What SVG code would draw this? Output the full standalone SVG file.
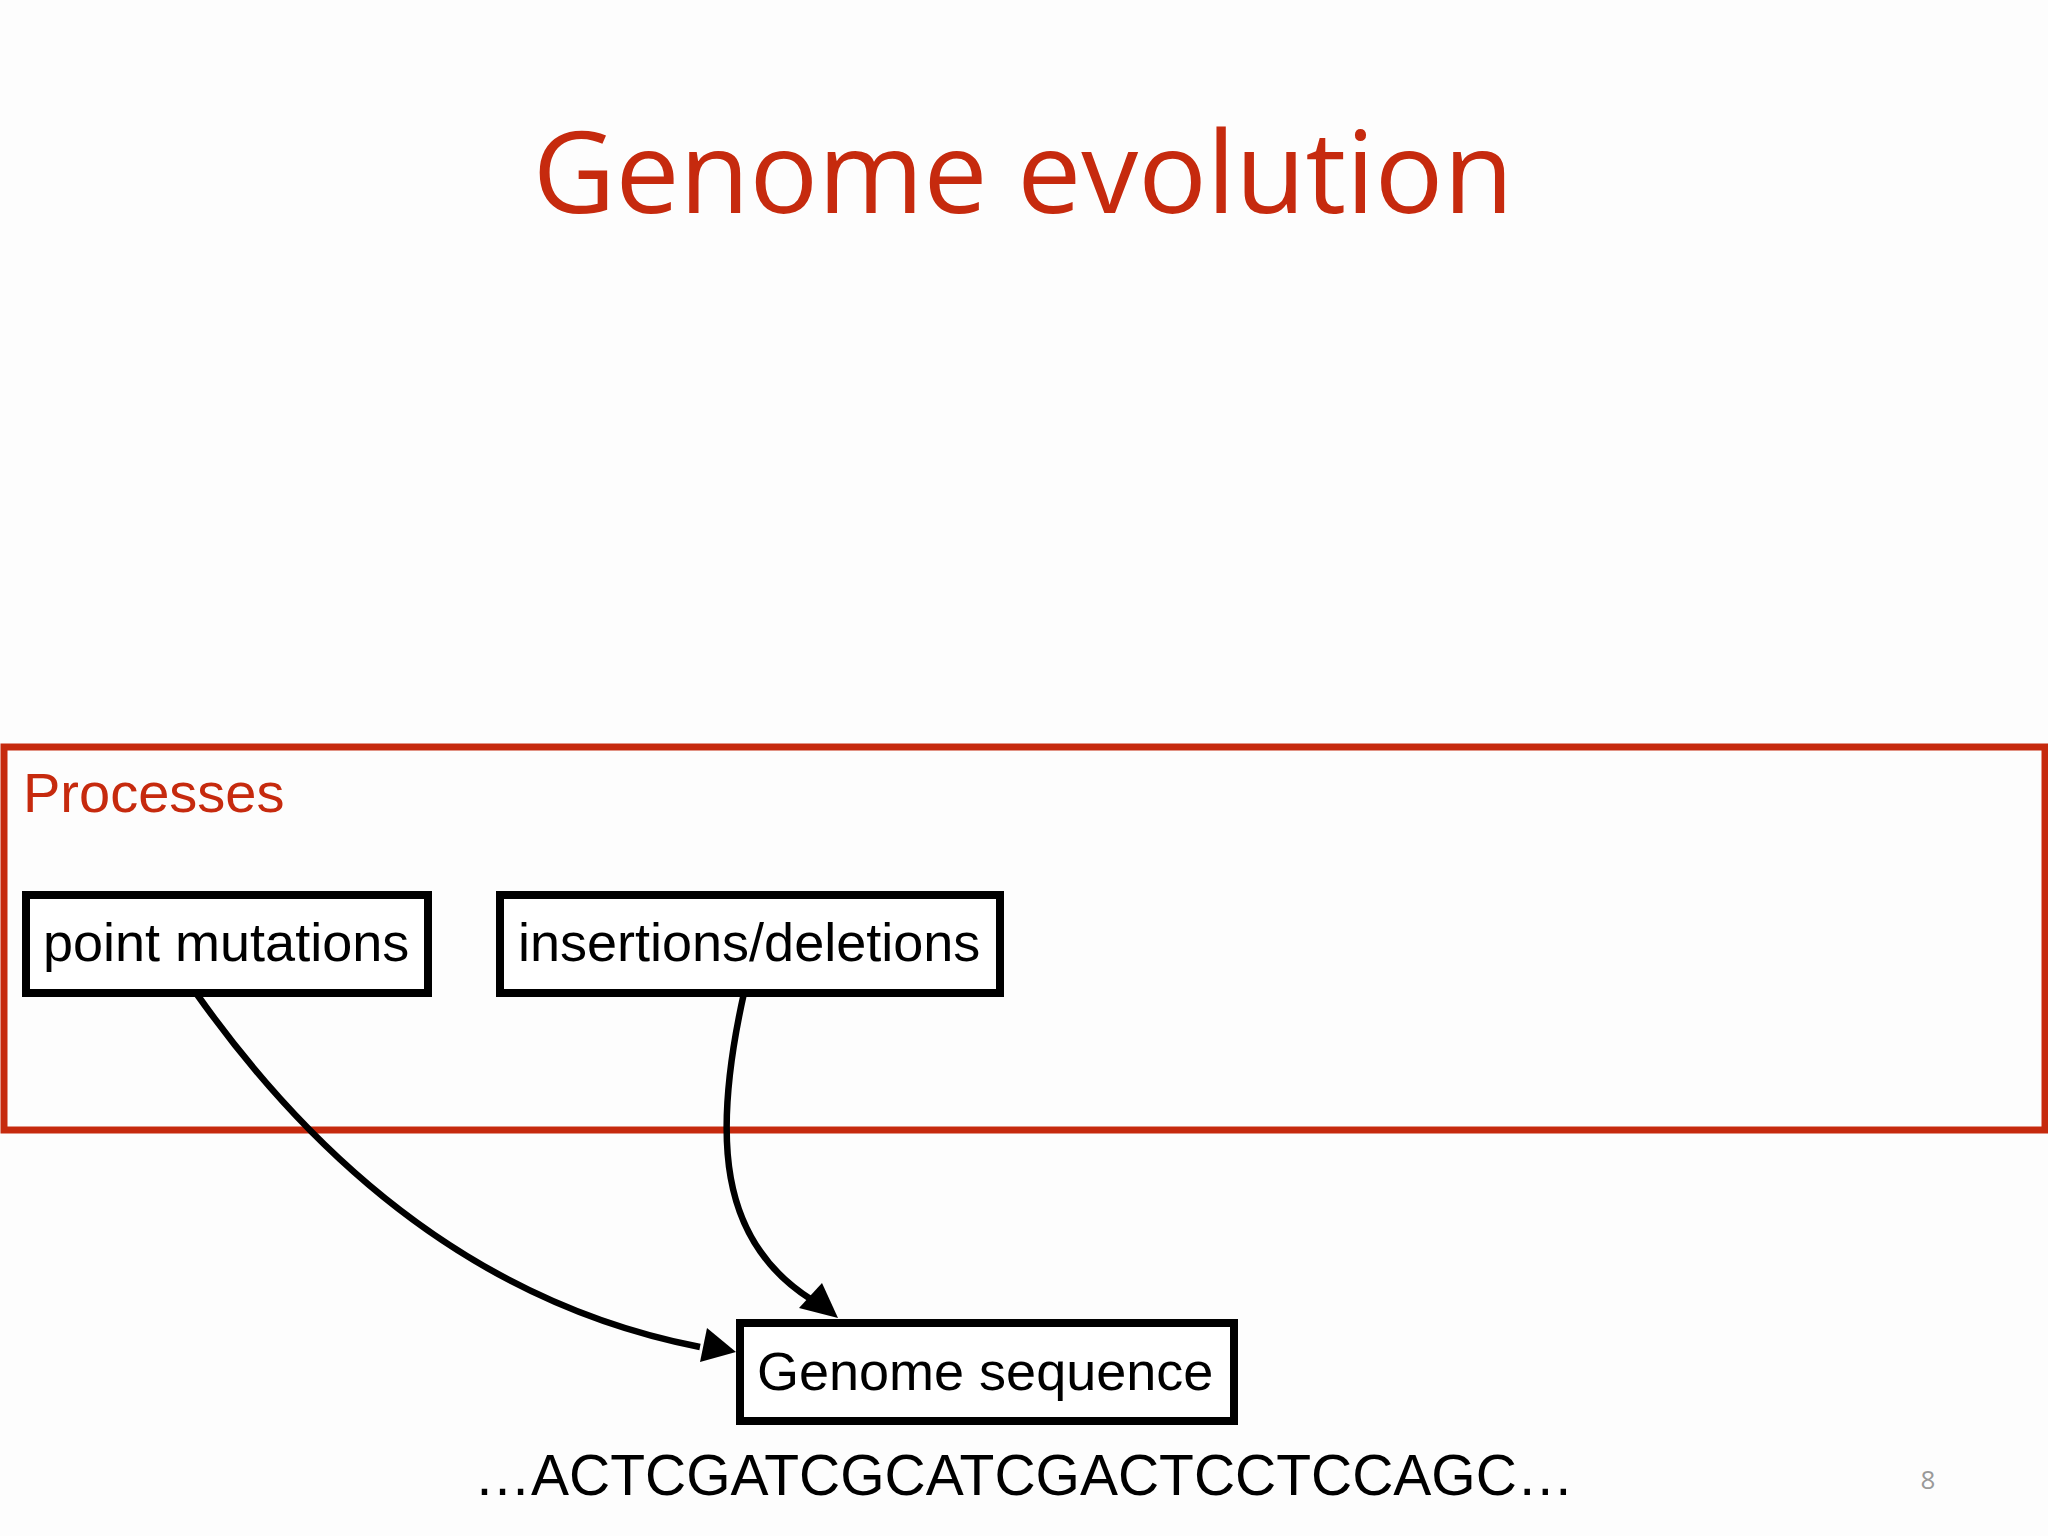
<svg xmlns="http://www.w3.org/2000/svg" width="2048" height="1536" viewBox="0 0 2048 1536">
<style>
.box{fill:#fff;stroke:#000;stroke-width:8}
.lbl{font-family:"Liberation Sans",Arial,sans-serif;font-size:54px;fill:#000}
.con{fill:none;stroke:#000;stroke-width:6.5}
</style>
<rect width="2048" height="1536" fill="#fdfdfd"/>
<text x="1023" y="213" text-anchor="middle" font-family="'Open Sans','DejaVu Sans',sans-serif" font-size="114" fill="#c62a0e">Genome evolution</text>
<g id="processes">
<rect x="4" y="747" width="2041" height="383" fill="none" stroke="#c62a0e" stroke-width="7"/>
<text x="23" y="812" font-family="'Liberation Sans',Arial,sans-serif" font-size="56" fill="#c62a0e">Processes</text>
</g>
<g id="connectors">
<path class="con" d="M196,993 C300,1140 460,1300 700,1347"/>
<path d="M736,1352 L700,1362 L707,1328 z" fill="#000"/>
<path class="con" d="M744,993 C712,1136 718,1241 812,1300"/>
<path d="M838,1318 L799,1308 L822,1283 z" fill="#000"/>
</g>
<g id="point">
<rect class="box" x="26" y="895" width="402" height="98"/>
<text class="lbl" x="43" y="961">point mutations</text>
</g>
<g id="indel">
<rect class="box" x="500" y="895" width="500" height="98"/>
<text class="lbl" x="518" y="961">insertions/deletions</text>
</g>
<g id="genome">
<rect class="box" x="740" y="1323" width="494" height="98"/>
<text class="lbl" x="757" y="1390">Genome sequence</text>
</g>
<text x="474" y="1495" font-family="'Liberation Sans',Arial,sans-serif" font-size="57" fill="#000">…ACTCGATCGCATCGACTCCTCCAGC…</text>
<text x="1928" y="1489" font-family="'Open Sans',sans-serif" font-size="26" fill="#999" text-anchor="middle">8</text>
</svg>
